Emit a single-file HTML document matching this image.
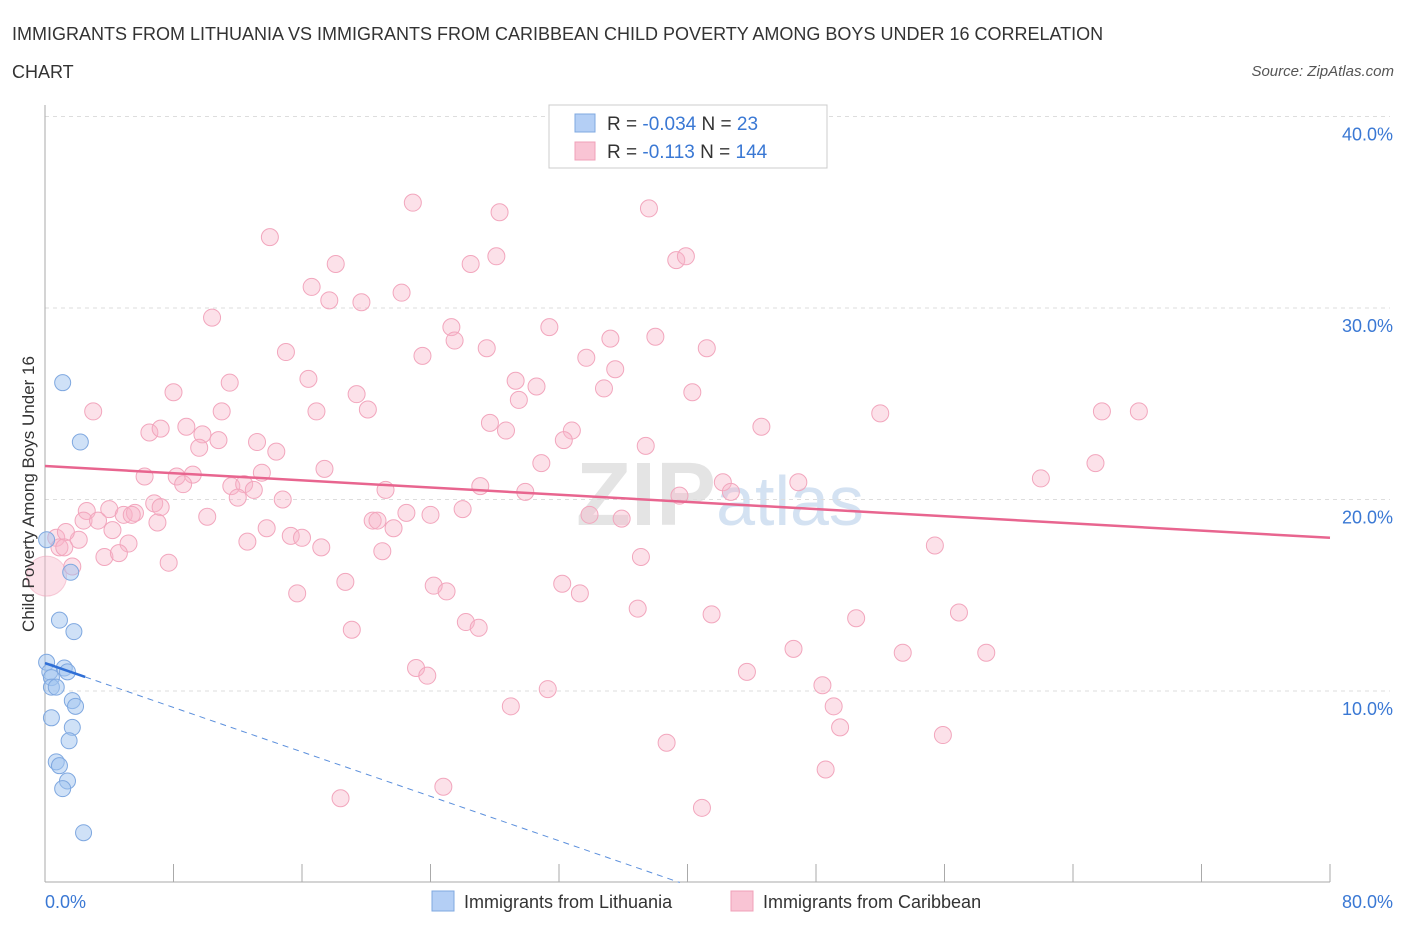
<!DOCTYPE html>
<html><head><meta charset="utf-8">
<style>
body{margin:0;background:#fff;font-family:"Liberation Sans",sans-serif;}
svg text{font-family:"Liberation Sans",sans-serif;}
</style></head>
<body>
<svg id="chart" width="1406" height="930" xmlns="http://www.w3.org/2000/svg">
<text x="12" y="40" font-size="18" fill="#333">IMMIGRANTS FROM LITHUANIA VS IMMIGRANTS FROM CARIBBEAN CHILD POVERTY AMONG BOYS UNDER 16 CORRELATION</text>
<text x="12" y="78" font-size="18" fill="#333">CHART</text>
<text x="1394" y="76" font-size="15" fill="#555" text-anchor="end" font-style="italic">Source: ZipAtlas.com</text>
<text x="720" y="525" font-size="90" fill="#e4e4e4" text-anchor="middle" font-family="Liberation Serif" font-weight="bold">ZIP<tspan fill="#d4e2f2" font-family="Liberation Sans" font-weight="normal" font-size="70">atlas</tspan></text>
<g id="grid"></g>
<g id="axes"></g>
<g id="marks"></g>
<g>
<rect x="549" y="105" width="278" height="63" fill="#fff" stroke="#ccc"/>
<rect x="575" y="114" width="20" height="18" fill="#b4cff5" stroke="#7fa8e0"/>
<rect x="575" y="142" width="20" height="18" fill="#f9c4d4" stroke="#f0a0b8"/>
<text x="607" y="130" font-size="19" fill="#333">R = <tspan fill="#3a78d4">-0.034</tspan>   N =  <tspan fill="#3a78d4">23</tspan></text>
<text x="607" y="158" font-size="19" fill="#333">R =  <tspan fill="#3a78d4"> -0.113</tspan>   N = <tspan fill="#3a78d4">144</tspan></text>
</g>
<g>
<rect x="432" y="891" width="22" height="20" fill="#b4cff5" stroke="#7fa8e0"/>
<text x="464" y="908" font-size="18" fill="#333">Immigrants from Lithuania</text>
<rect x="731" y="891" width="22" height="20" fill="#f9c4d4" stroke="#f0a0b8"/>
<text x="763" y="908" font-size="18" fill="#333">Immigrants from Caribbean</text>
</g>
<text transform="translate(34,494) rotate(-90)" font-size="17" fill="#333" text-anchor="middle">Child Poverty Among Boys Under 16</text>
</svg>
<script>
const yTicks=[10,20,30,40];
const yTickLabels=["10.0%","20.0%","30.0%","40.0%"];
const xTickLabels=["0.0%","80.0%"];
const pinkX=[22.9,28.3,37.6,14.0,18.1,26.5,28.1,39.3,39.9,16.6,17.7,19.7,22.2,10.4,25.3,25.5,31.4,35.2,38.0,15.0,23.5,27.5,33.7,41.2,35.5,16.4,29.3,30.6,34.8,11.5,8.0,19.4,20.1,29.5,40.3,3.0,11.0,16.9,52.0,65.8,68.1,27.7,28.7,32.8,44.6,6.5,7.2,8.8,9.8,10.8,32.3,37.4,9.6,13.2,14.4,30.9,65.4,6.2,8.2,9.2,8.6,13.5,17.4,62.0,27.1,11.6,12.4,13.0,12.0,21.2,29.9,39.5,42.2,42.7,46.9,14.8,6.8,2.6,4.0,4.9,5.6,7.2,2.4,3.3,5.4,7.0,10.1,20.4,20.7,21.7,22.5,24.0,26.0,33.9,35.9,4.2,13.8,15.3,16.0,0.7,2.1,1.3,0.9,1.2,5.2,12.6,17.2,21.0,55.4,3.7,4.6,7.7,37.1,1.7,18.7,24.2,25.0,32.2,33.3,15.7,36.9,41.5,50.5,56.9,26.2,27.0,19.1,46.6,53.4,58.6,23.1,23.8,43.7,31.3,48.4,49.1,29.0,49.5,55.9,38.7,48.6,18.4,24.8,40.9];
const pinkY=[35.5,35.0,35.2,33.7,32.3,32.3,32.7,32.5,32.7,31.1,30.4,30.3,30.8,29.5,29.0,28.3,29.0,28.4,28.5,27.7,27.5,27.9,27.4,27.9,26.8,26.3,26.2,25.9,25.8,26.1,25.6,25.5,24.7,25.2,25.6,24.6,24.6,24.6,24.5,24.6,24.6,24.0,23.6,23.6,23.8,23.5,23.7,23.8,23.4,23.1,23.1,22.8,22.7,23.0,22.5,21.9,21.9,21.2,21.2,21.3,20.8,21.4,21.6,21.1,20.7,20.7,20.8,20.5,20.1,20.5,20.4,20.2,20.9,20.4,20.9,20.0,19.8,19.4,19.5,19.2,19.3,19.6,18.9,18.9,19.2,18.8,19.1,18.9,18.9,18.5,19.3,19.2,19.5,19.2,19.0,18.4,18.5,18.1,18.0,18.0,17.9,18.3,17.5,17.5,17.7,17.8,17.5,17.3,17.6,17.0,17.2,16.7,17.0,16.5,15.7,15.5,15.2,15.6,15.1,15.1,14.3,14.0,13.8,14.1,13.6,13.3,13.2,12.2,12.0,12.0,11.2,10.8,11.0,10.1,10.3,9.2,9.2,8.1,7.7,7.3,5.9,4.4,5.0,3.9];
const blueX=[1.1,2.2,0.1,1.6,0.9,1.8,0.1,0.3,1.2,1.4,0.4,0.4,0.7,1.7,1.9,0.4,1.7,1.5,0.7,0.9,1.4,1.1,2.4];
const blueY=[26.1,23.0,17.9,16.2,13.7,13.1,11.5,11.0,11.2,11.0,10.7,10.2,10.2,9.5,9.2,8.6,8.1,7.4,6.3,6.1,5.3,4.9,2.6];
const pinkTrend=[21.75,18.0];
const blueTrend=[11.46,-0.29];
const NS="http://www.w3.org/2000/svg";
const X=v=>45+v*16.0625, Y=v=>882.5-v*19.15;
function mk(t,a,p){const e=document.createElementNS(NS,t);for(const k in a)e.setAttribute(k,a[k]);p.appendChild(e);return e;}
const grid=document.getElementById('grid'),axes=document.getElementById('axes'),marks=document.getElementById('marks');
yTicks.forEach((t,i)=>{
 const l=mk('line',{x1:45,x2:1390,y1:Y(t),y2:Y(t),stroke:'#ddd','stroke-dasharray':'4,4'},grid);
 
 
 const tx=mk('text',{x:1393,y:Y(t)+24,'font-size':18,fill:'#3a78d4','text-anchor':'end'},axes);
 tx.textContent=yTickLabels[i];
 
 
});
const ax=mk('line',{x1:45,x2:45,y1:105,y2:882,stroke:'#aaa'},axes);


const bx=mk('line',{x1:45,x2:1330,y1:882,y2:882,stroke:'#aaa'},axes);


for(let i=0;i<=10;i++){const t=mk('line',{x1:X(i*8),x2:X(i*8),y1:864,y2:882,stroke:'#aaa'},axes);
 
 }
const xl0=mk('text',{x:45,y:908,'font-size':18,fill:'#3a78d4'},axes);xl0.textContent=xTickLabels[0];


const xl1=mk('text',{x:1393,y:908,'font-size':18,fill:'#3a78d4','text-anchor':'end'},axes);xl1.textContent=xTickLabels[1];


const big=mk('circle',{cx:X(0.1),cy:Y(16.0),r:20,fill:'rgba(248,180,200,0.4)',stroke:'rgba(240,160,184,0.5)'},marks);


pinkX.forEach((x,i)=>{const c=mk('circle',{cx:X(x),cy:Y(pinkY[i]),r:8.5,fill:'rgba(248,180,200,0.4)',stroke:'#f2a6bd','stroke-width':1},marks);
 
 });
blueX.forEach((x,i)=>{const c=mk('circle',{cx:X(x),cy:Y(blueY[i]),r:8,fill:'rgba(160,195,240,0.5)',stroke:'#7fa8e0','stroke-width':1},marks);
 
 });
const pt=mk('line',{x1:X(0),y1:Y(pinkTrend[0]),x2:X(80),y2:Y(pinkTrend[1]),stroke:'#e8658f','stroke-width':2.5},marks);


const bz=-blueTrend[0]/blueTrend[1];
const bt=mk('line',{x1:X(0),y1:Y(blueTrend[0]),x2:X(2.5),y2:Y(blueTrend[0]+blueTrend[1]*2.5),stroke:'#2f6fd6','stroke-width':2.5},marks);


const bd=mk('line',{x1:X(2.5),y1:Y(blueTrend[0]+blueTrend[1]*2.5),x2:X(bz),y2:Y(0),stroke:'#5b8fdc','stroke-width':1,'stroke-dasharray':'6,5'},marks);


</script>
</body></html>
